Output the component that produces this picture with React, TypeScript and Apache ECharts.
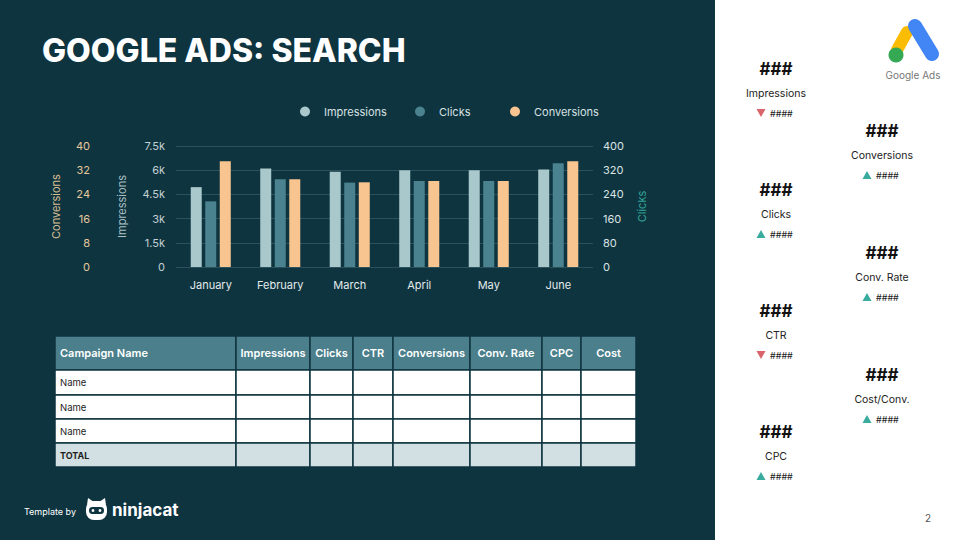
import React, { useEffect, useRef } from 'react';
import * as echarts from 'echarts';

// ---- data ----
const months = ['January', 'February', 'March', 'April', 'May', 'June'];
const impressions = [4950, 6100, 5900, 6000, 6000, 6050];
const clicks = [217, 290, 279, 284, 284, 343];
const conversions = [35, 29, 28, 28.4, 28.4, 35];

const tableColumns = ['Campaign Name', 'Impressions', 'Clicks', 'CTR', 'Conversions', 'Conv. Rate', 'CPC', 'Cost'];
const tableRows = ['Name', 'Name', 'Name', 'TOTAL'];

const kpiLabels = ['Impressions', 'Clicks', 'CTR', 'CPC', 'Conversions', 'Conv. Rate', 'Cost/Conv.'];
const kpiValues = ['###', '###', '###', '###', '###', '###', '###'];
const kpiDeltas = ['####', '####', '####', '####', '####', '####', '####'];
const kpiTrend = ['down', 'up', 'down', 'up', 'up', 'up', 'up'];

// ---- layout / style ----
const BG = '#0e343f';
const C_IMP = '#a9c8cc';
const C_CLK = '#4a8290';
const C_CONV = '#f8c590';
const FONT = 'Inter, "Noto Sans", sans-serif';
const colEdges = [55, 236, 310, 353, 393, 470, 542, 581, 636];
const rowEdges = [336, 370, 395, 419, 443, 467];

function buildGraphics() {
  const g: any[] = [];
  // right white panel
  g.push({ type: 'rect', shape: { x: 715, y: 0, width: 245, height: 540 }, style: { fill: '#ffffff' }, silent: true });
  // title
  g.push({ type: 'text', x: 42, y: 50, style: { text: 'GOOGLE ADS: SEARCH', fill: '#ffffff', fontFamily: FONT, fontWeight: 800, fontSize: 32, align: 'left', verticalAlign: 'middle' } });

  // table
  for (let r = 0; r < tableRows.length + 1; r++) {
    for (let c = 0; c < tableColumns.length; c++) {
      const x0 = colEdges[c], x1 = colEdges[c + 1];
      const y0 = rowEdges[r], y1 = rowEdges[r + 1];
      const fill = r === 0 ? '#4b7f8c' : r === tableRows.length ? '#d3e0e3' : '#ffffff';
      g.push({ type: 'rect', shape: { x: x0, y: y0, width: x1 - x0, height: y1 - y0 }, style: { fill, stroke: BG, lineWidth: 1.5 } });
      if (r === 0) {
        g.push({ type: 'text', x: c === 0 ? 60 : (x0 + x1) / 2, y: (y0 + y1) / 2, style: { text: tableColumns[c], fill: '#ffffff', fontFamily: FONT, fontWeight: 600, fontSize: 11, align: c === 0 ? 'left' : 'center', verticalAlign: 'middle' } });
      } else if (c === 0) {
        const isTotal = r === tableRows.length;
        g.push({ type: 'text', x: 60, y: (y0 + y1) / 2, style: { text: tableRows[r - 1], fill: '#1e1e1e', fontFamily: FONT, fontWeight: isTotal ? 700 : 400, fontSize: isTotal ? 9 : 9.5, align: 'left', verticalAlign: 'middle' } });
      }
    }
  }

  // KPIs
  const pos = [
    [776, 69], [776, 190], [776, 311], [776, 432],
    [882, 131], [882, 253], [882, 375],
  ];
  kpiLabels.forEach((lab, i) => {
    const [cx, cy] = pos[i];
    g.push({ type: 'text', x: cx, y: cy, style: { text: kpiValues[i], fill: '#111', fontFamily: FONT, fontWeight: 700, fontSize: 17, align: 'center', verticalAlign: 'middle' } });
    g.push({ type: 'text', x: cx, y: cy + 24, style: { text: lab, fill: '#222', fontFamily: FONT, fontSize: 10.5, align: 'center', verticalAlign: 'middle' } });
    const ty = cy + 44;
    const tx = cx - 15;
    const up = kpiTrend[i] === 'up';
    g.push({ type: 'polygon', shape: { points: up ? [[tx - 4.5, ty + 4], [tx + 4.5, ty + 4], [tx, ty - 4]] : [[tx - 4.5, ty - 4], [tx + 4.5, ty - 4], [tx, ty + 4]] }, style: { fill: up ? '#3aab9f' : '#d9646b' } });
    g.push({ type: 'text', x: cx - 6, y: ty, style: { text: kpiDeltas[i], fill: '#222', fontFamily: FONT, fontSize: 9, align: 'left', verticalAlign: 'middle' } });
  });

  // page number
  g.push({ type: 'text', x: 928, y: 518, style: { text: '2', fill: '#555', fontFamily: FONT, fontSize: 10, align: 'center', verticalAlign: 'middle' } });

  // Google Ads logo
  g.push({ type: 'line', shape: { x1: 907, y1: 32, x2: 897, y2: 50 }, style: { stroke: '#fbbc04', lineWidth: 12, lineCap: 'round' } });
  g.push({ type: 'line', shape: { x1: 915, y1: 26, x2: 932, y2: 54 }, style: { stroke: '#4285f4', lineWidth: 14, lineCap: 'round' } });
  g.push({ type: 'circle', shape: { cx: 896, cy: 55, r: 7.5 }, style: { fill: '#34a853' } });
  g.push({ type: 'text', x: 913, y: 75, style: { text: 'Google Ads', fill: '#777', fontFamily: FONT, fontSize: 10, align: 'center', verticalAlign: 'middle' } });

  // Template by ninjacat
  g.push({ type: 'text', x: 24, y: 511, style: { text: 'Template by', fill: '#ffffff', fontFamily: FONT, fontSize: 9, align: 'left', verticalAlign: 'middle' } });
  g.push({ type: 'polygon', shape: { points: [[87, 505], [88, 498], [94, 502]] }, style: { fill: '#ffffff' } });
  g.push({ type: 'polygon', shape: { points: [[106, 505], [105, 498], [99, 502]] }, style: { fill: '#ffffff' } });
  g.push({ type: 'rect', shape: { x: 86, y: 501, width: 21, height: 19, r: 8 }, style: { fill: '#ffffff' } });
  g.push({ type: 'rect', shape: { x: 89, y: 507, width: 15, height: 7, r: 3.5 }, style: { fill: BG } });
  g.push({ type: 'circle', shape: { cx: 93, cy: 510.5, r: 1.4 }, style: { fill: '#ffffff' } });
  g.push({ type: 'circle', shape: { cx: 100, cy: 510.5, r: 1.4 }, style: { fill: '#ffffff' } });
  g.push({ type: 'text', x: 112, y: 510, style: { text: 'ninjacat', fill: '#ffffff', fontFamily: FONT, fontWeight: 700, fontSize: 17, align: 'left', verticalAlign: 'middle' } });
  return g;
}

export default function App() {
  const ref = useRef<HTMLDivElement>(null);
  useEffect(() => {
    const chart = echarts.init(ref.current!, null, { renderer: 'svg', width: 960, height: 540 });
    const legendBase = {
      orient: 'horizontal', top: 106, padding: 0, icon: 'circle', itemWidth: 10, itemHeight: 10,
      textStyle: { color: '#d8e1e3', fontSize: 11, fontFamily: FONT, padding: [0, 0, 0, 9] },
      selectedMode: false,
    };
    const option: any = {
      animation: false,
      backgroundColor: BG,
      textStyle: { fontFamily: FONT },
      legend: [
        { ...legendBase, left: 300, data: ['Impressions'] },
        { ...legendBase, left: 415, data: ['Clicks'] },
        { ...legendBase, left: 510, data: ['Conversions'] },
      ],
      grid: { left: 176, right: 367, top: 146, bottom: 273, containLabel: false },
      xAxis: {
        type: 'category', data: months,
        axisLine: { show: false }, axisTick: { show: false },
        axisLabel: { color: '#e3eaec', fontSize: 11, margin: 12 },
      },
      yAxis: [
        {
          type: 'value', name: 'Impressions', nameLocation: 'middle', nameGap: 49, position: 'left',
          nameTextStyle: { color: '#a9bfc4', fontSize: 11 },
          min: 0, max: 7500, interval: 1500,
          axisLabel: { color: '#c3cfd2', fontSize: 11, margin: 11, formatter: (v: number) => (v === 0 ? '0' : v / 1000 + 'k') },
          axisLine: { show: false }, axisTick: { show: false },
          splitLine: { lineStyle: { color: '#2b525c', width: 1 } },
        },
        {
          type: 'value', name: 'Clicks', nameLocation: 'middle', nameGap: 43, position: 'right',
          nameTextStyle: { color: '#33a497', fontSize: 11 },
          min: 0, max: 400, interval: 80,
          axisLabel: { color: '#dbe3e5', fontSize: 11, margin: 10 },
          axisLine: { show: false }, axisTick: { show: false }, splitLine: { show: false },
        },
        {
          type: 'value', name: 'Conversions', nameLocation: 'middle', nameGap: 41, position: 'left', offset: 74,
          nameTextStyle: { color: '#d9bd93', fontSize: 11 },
          min: 0, max: 40, interval: 8,
          axisLabel: { color: '#e6c89c', fontSize: 11, margin: 12 },
          axisLine: { show: false }, axisTick: { show: false }, splitLine: { show: false },
        },
      ],
      series: [
        { name: 'Impressions', type: 'bar', yAxisIndex: 0, data: impressions, barWidth: 11, barGap: '32%', itemStyle: { color: C_IMP } },
        { name: 'Clicks', type: 'bar', yAxisIndex: 1, data: clicks, barWidth: 11, barGap: '32%', itemStyle: { color: C_CLK } },
        { name: 'Conversions', type: 'bar', yAxisIndex: 2, data: conversions, barWidth: 11, barGap: '32%', itemStyle: { color: C_CONV } },
      ],
      graphic: buildGraphics(),
    };
    chart.setOption(option);
    return () => chart.dispose();
  }, []);
  return <div ref={ref} style={{ position: 'fixed', left: 0, top: 0, width: 960, height: 540 }} />;
}
